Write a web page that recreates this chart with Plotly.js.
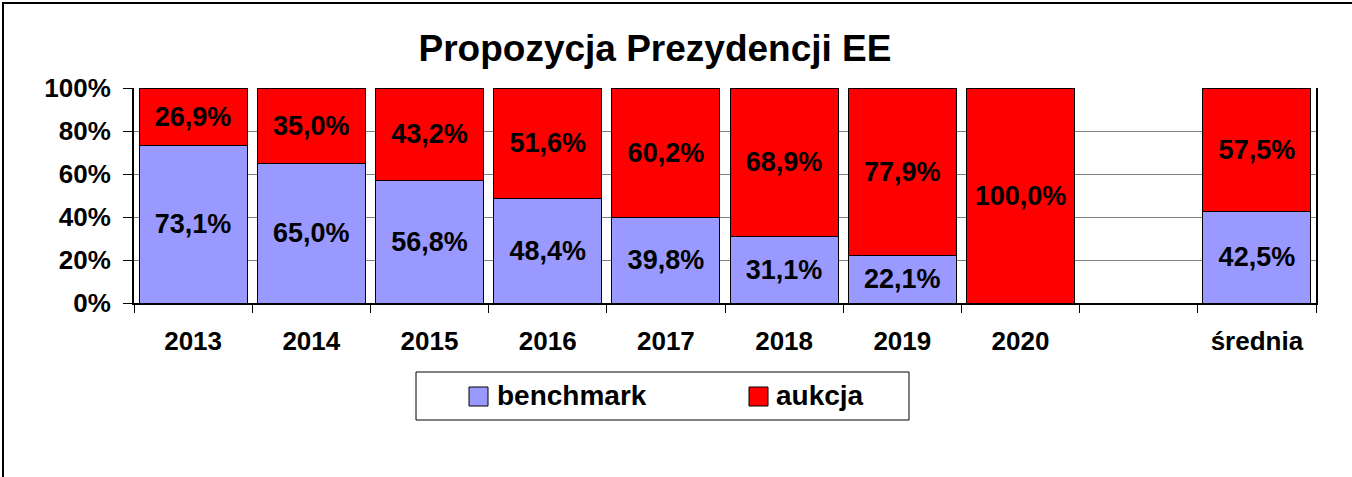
<!DOCTYPE html>
<html>
<head>
<meta charset="utf-8">
<script src="https://cdn.plot.ly/plotly-3.0.1.min.js"></script>
<style>
  html, body { margin: 0; padding: 0; background: #fff; overflow: hidden; }
  #wrap { position: relative; width: 1352px; height: 477px; overflow: hidden; }
  #chart { width: 1352px; height: 477px; }
  #frame { position: absolute; left: 2px; top: 2px; width: 1400px; height: 600px;
           border: 2px solid #000; pointer-events: none; box-sizing: border-box; }
</style>
</head>
<body>
<div id="wrap"><div id="chart"></div><div id="frame"></div></div>
<script>
const categories = ['2013', '2014', '2015', '2016', '2017', '2018', '2019', '2020', ' ', 'średnia'];
const benchmark = [73.1, 65.0, 56.8, 48.4, 39.8, 31.1, 22.1, 0, null, 42.5];
const aukcja = [26.9, 35.0, 43.2, 51.6, 60.2, 68.9, 77.9, 100.0, null, 57.5];
const seriesNames = ['benchmark', 'aukcja'];
const seriesColors = ['#9999FF', '#FF0000'];
const yTickVals = [0, 20, 40, 60, 80, 100];
const yTickText = ['0%', '20%', '40%', '60%', '80%', '100%'];

const fmt = v => (v ? v.toFixed(1).replace('.', ',') + '%' : '');
const FONT = 'Liberation Sans, Arial, sans-serif';
const pad = 134, plotW = 1182, plotB = 303, plotH = 215;
const px = v => (v - pad) / plotW;
const py = v => (plotB - v) / plotH;

const labelFont = { family: FONT, size: 27, color: '#000', weight: 'bold' };

const seriesValues = [benchmark, aukcja];
const traces = seriesValues.map((vals, i) => ({
  type: 'bar', name: seriesNames[i], x: categories, y: vals,
  text: vals.map(fmt), texttemplate: '%{text}',
  textposition: 'inside', insidetextanchor: 'middle', constraintext: 'none',
  textfont: labelFont, hoverinfo: 'x+y', showlegend: false,
  marker: { color: seriesColors[i], line: { color: '#000', width: 1 } }
}));

// legend (drawn as box + swatches + text)
const legendSwatchX = [469, 749];
const legendTextX = [495, 774];
const shapes = [
  {
    type: 'rect', xref: 'paper', yref: 'paper',
    x0: px(416), x1: px(909), y0: py(420), y1: py(372),
    line: { color: '#000', width: 1 }, fillcolor: 'rgba(0,0,0,0)'
  }
];
const annotations = [];
seriesNames.forEach((n, i) => {
  shapes.push({
    type: 'rect', xref: 'paper', yref: 'paper',
    x0: px(legendSwatchX[i]), x1: px(legendSwatchX[i] + 19), y0: py(406), y1: py(387),
    line: { color: '#000', width: 1 }, fillcolor: seriesColors[i]
  });
  annotations.push({
    text: n, xref: 'paper', yref: 'paper', x: px(legendTextX[i]), y: py(395),
    xanchor: 'left', yanchor: 'middle', showarrow: false,
    font: { family: FONT, size: 28, color: '#000', weight: 'bold' }
  });
});

const layout = {
  width: 1352, height: 477,
  margin: { l: 134, r: 36, t: 88, b: 174 },
  paper_bgcolor: '#fff', plot_bgcolor: '#fff',
  barmode: 'stack', bargap: 0.086,
  font: { family: FONT, color: '#000' },
  title: {
    text: 'Propozycja Prezydencji EE',
    font: { family: FONT, size: 37, color: '#000', weight: 'bold' },
    x: 655 / 1352, xref: 'container', xanchor: 'center',
    y: 1 - 48 / 477, yref: 'container', yanchor: 'middle'
  },
  xaxis: {
    type: 'category', categoryorder: 'array', categoryarray: categories,
    showline: true, linecolor: '#000', linewidth: 2,
    ticks: 'outside', ticklen: 8, tickcolor: '#000', tickwidth: 1,
    tickson: 'boundaries', showgrid: false, zeroline: false,
    tickfont: { family: FONT, size: 26, color: '#000', weight: 'bold' },
    ticklabelstandoff: 14
  },
  yaxis: {
    range: [0, 100], tickvals: yTickVals, ticktext: yTickText,
    showline: true, linecolor: '#000', linewidth: 2, mirror: true,
    ticks: 'outside', ticklen: 9, tickcolor: '#000', tickwidth: 1,
    showgrid: true, gridcolor: '#808080', gridwidth: 1, zeroline: false,
    tickfont: { family: FONT, size: 26, color: '#000', weight: 'bold' },
    ticklabelstandoff: 7
  },
  showlegend: false,
  shapes: shapes,
  annotations: annotations
};

Plotly.newPlot('chart', traces, layout, { displayModeBar: false, staticPlot: true });
</script>
</body>
</html>
